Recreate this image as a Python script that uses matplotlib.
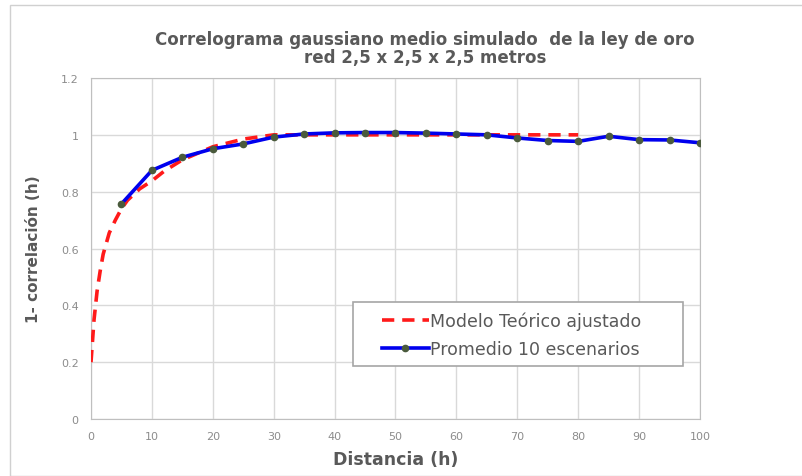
import matplotlib
matplotlib.use("Agg")
import matplotlib.pyplot as plt
from matplotlib.patches import Rectangle

# fitted theoretical model (red dashed)
model_h = [0, 0.5, 1, 1.5, 2, 3, 4, 5, 6, 8, 10, 12, 15, 20, 25, 30, 40, 50, 60, 70, 80]
model_val = [0.20, 0.35, 0.45, 0.52, 0.58, 0.655, 0.70, 0.74, 0.77, 0.81, 0.838,
             0.872, 0.912, 0.958, 0.985, 1.0, 1.0, 1.0, 1.0, 1.0, 1.0]

# mean of 10 simulated scenarios
sim_h = [5, 10, 15, 20, 25, 30, 35, 40, 45, 50, 55, 60, 65, 70, 75, 80, 85, 90, 95, 100]
sim_val = [0.757, 0.875, 0.921, 0.951, 0.968, 0.992, 1.003, 1.007, 1.008, 1.008,
           1.006, 1.003, 1.0, 0.989, 0.98, 0.977, 0.995, 0.983, 0.982, 0.972]

x_ticks = list(range(0, 101, 10))
y_ticks = [0, 0.2, 0.4, 0.6, 0.8, 1, 1.2]
y_labels = ["0", "0.2", "0.4", "0.6", "0.8", "1", "1.2"]

title_lines = ["Correlograma gaussiano medio simulado  de la ley de oro",
               "red 2,5 x 2,5 x 2,5 metros"]

txt = "#595959"
grid = "#d9d9d9"

fig = plt.figure(figsize=(8.02, 4.77), dpi=100)
W, H = 802, 477
ax = fig.add_axes([91 / W, 1 - 420 / H, (700 - 91) / W, (420 - 79) / H])

# outer chart border
fig.patches.append(Rectangle((10 / W, 0), 1.0, 1 - 6 / H, transform=fig.transFigure,
                             fill=False, edgecolor="#d0d0d0", lw=1))

ax.plot(model_h, model_val, color="#ff1a1a", lw=2.6, ls=(0, (3.4, 2.2)),
        label="Modelo Teórico ajustado", zorder=3)
ax.plot(sim_h, sim_val, color="#0000ee", lw=2.6, marker="o", ms=4.5,
        mfc="#4a5a3c", mec="#4a5a3c", label="Promedio 10 escenarios", zorder=4)

ax.set_xlim(0, 100)
ax.set_ylim(0, 1.2)
ax.set_xticks(x_ticks)
ax.set_yticks(y_ticks)
ax.set_yticklabels(y_labels)
ax.grid(True, color=grid, lw=1)
ax.set_axisbelow(True)
for s in ax.spines.values():
    s.set_color("#bfbfbf")
ax.tick_params(length=0, labelsize=8, labelcolor="#8c8c8c", pad=9)

ax.set_xlabel("Distancia (h)", fontsize=12.5, fontweight="bold", color=txt, labelpad=6)
ax.set_ylabel("1- correlación (h)", fontsize=11, fontweight="bold", color=txt, labelpad=14)

for i, line in enumerate(title_lines):
    fig.text(425 / W, 1 - (40 + 18 * i) / H, line, ha="center", va="center",
             fontsize=12, fontweight="bold", color=txt)

# legend box drawn separately so it can be wider than its entries
ax.add_patch(Rectangle(((353 - 91) / 609, (420 - 367) / 341), 330 / 609, 64 / 341,
                       transform=ax.transAxes, facecolor="white", edgecolor="#a6a6a6",
                       lw=1.2, zorder=5))
leg = ax.legend(loc="upper left", bbox_to_anchor=((368 - 91) / 609, (420 - 299) / 341),
                fontsize=12.5, frameon=False, handlelength=2.7,
                handletextpad=0.05, borderpad=0.3, labelspacing=0.55)
leg.set_zorder(6)
for t in leg.get_texts():
    t.set_color(txt)

fig.savefig("out.png", dpi=100)
